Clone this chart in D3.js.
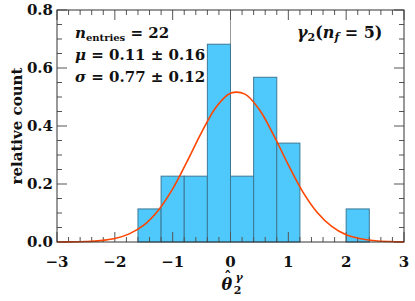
<!DOCTYPE html>
<html>
<head>
<meta charset="utf-8">
<script src="https://cdn.jsdelivr.net/npm/d3@7"></script>
<style>
  body { margin: 0; background: #fff; }
  text { font-family: "DejaVu Serif", serif; font-weight: bold; fill: #111; }
</style>
</head>
<body>
<div id="chart"></div>
<script>
// histogram bins (left edge, right edge) and relative counts (count / (22 * 0.4))
const binLo = [-1.6, -1.2, -0.8, -0.4, 0.0, 0.4, 0.8, 2.0];
const binHi = [-1.2, -0.8, -0.4, 0.0, 0.4, 0.8, 1.2, 2.4];
const relCount = [0.114, 0.227, 0.227, 0.682, 0.227, 0.568, 0.341, 0.114];

// fitted gaussian
const curveX = [-3, -2.75, -2.5, -2.25, -2, -1.75, -1.5, -1.25, -1, -0.75, -0.5, -0.25, 0,
                0.25, 0.5, 0.75, 1, 1.25, 1.5, 1.75, 2, 2.25, 2.5, 2.75, 3];
const curveY = [0.0001, 0.0005, 0.0017, 0.0047, 0.012, 0.028, 0.058, 0.109, 0.183, 0.278, 0.378, 0.465, 0.513,
                0.510, 0.456, 0.367, 0.266, 0.173, 0.102, 0.054, 0.025, 0.011, 0.0042, 0.0015, 0.0005];

const xTicks = [-3, -2, -1, 0, 1, 2, 3];
const yTicks = [0.0, 0.2, 0.4, 0.6, 0.8];

const margin = { top: 10, right: 11, bottom: 59, left: 57 };
const W = 415, H = 301;
const width = W - margin.left - margin.right;
const height = H - margin.top - margin.bottom;

const svg = d3.select('#chart').append('svg')
    .attr('width', W).attr('height', H);
const g = svg.append('g').attr('transform', `translate(${margin.left},${margin.top})`);

const x = d3.scaleLinear().domain([-3, 3]).range([0, width]);
const y = d3.scaleLinear().domain([0, 0.8]).range([height, 0]);

// zero line
g.append('line')
    .attr('x1', x(0)).attr('x2', x(0))
    .attr('y1', 0).attr('y2', height)
    .attr('stroke', '#999').attr('stroke-width', 1);

// bars
g.selectAll('rect.bar')
    .data(relCount)
    .join('rect')
    .attr('class', 'bar')
    .attr('x', (d, i) => x(binLo[i]))
    .attr('y', d => y(d))
    .attr('width', (d, i) => x(binHi[i]) - x(binLo[i]))
    .attr('height', d => height - y(d))
    .attr('fill', '#4fc9fb')
    .attr('stroke', '#3c7896')
    .attr('stroke-width', 1);

// ticks (inward, on all four sides)
const xMinor = d3.range(-3, 3.001, 0.2);
const yMinor = d3.range(0, 0.8001, 0.05);
const tickG = g.append('g').attr('stroke', '#555').attr('stroke-width', 1);
xMinor.forEach(v => {
    const major = xTicks.some(t => Math.abs(t - v) < 1e-6);
    const len = major ? 10 : 5;
    tickG.append('line').attr('x1', x(v)).attr('x2', x(v)).attr('y1', height).attr('y2', height - len);
    tickG.append('line').attr('x1', x(v)).attr('x2', x(v)).attr('y1', 0).attr('y2', len);
});
yMinor.forEach(v => {
    const major = yTicks.some(t => Math.abs(t - v) < 1e-6);
    const len = major ? 10 : 5;
    tickG.append('line').attr('x1', 0).attr('x2', len).attr('y1', y(v)).attr('y2', y(v));
    tickG.append('line').attr('x1', width).attr('x2', width - len).attr('y1', y(v)).attr('y2', y(v));
});

// gaussian
g.append('path')
    .datum(curveX.map((v, i) => [v, curveY[i]]))
    .attr('fill', 'none')
    .attr('stroke', '#ff4500')
    .attr('stroke-width', 1.6)
    .attr('d', d3.line().x(d => x(d[0])).y(d => y(d[1])).curve(d3.curveCatmullRom));

// frame
g.append('rect')
    .attr('width', width).attr('height', height)
    .attr('fill', 'none').attr('stroke', '#333').attr('stroke-width', 1);

// tick labels
g.selectAll('text.xt').data(xTicks).join('text')
    .attr('class', 'xt')
    .attr('x', d => x(d)).attr('y', height + 25)
    .attr('text-anchor', 'middle')
    .style('font-size', '15px')
    .text(d => d < 0 ? '\u2212' + Math.abs(d) : d);

g.selectAll('text.yt').data(yTicks).join('text')
    .attr('class', 'yt')
    .attr('x', -4).attr('y', d => y(d) + 5)
    .attr('text-anchor', 'end')
    .style('font-size', '15px')
    .text(d => d.toFixed(1));

// axis labels
svg.append('text')
    .attr('transform', `translate(22,${margin.top + height / 2}) rotate(-90)`)
    .attr('text-anchor', 'middle')
    .style('font-size', '15px')
    .text('relative count');

// theta hat, sub 2, sup gamma (hat placed as a tspan of the same text)
const xl = svg.append('text')
    .attr('x', margin.left + x(0) - 9).attr('y', 290)
    .style('font-size', '16px');
xl.append('tspan').style('font-style', 'italic').text('\u03B8');
const hat = xl.append('tspan').attr('dy', -8).style('font-size', '14px').text('\u02C6');
xl.append('tspan').attr('dy', 12).style('font-size', '11px').text('2');
xl.append('tspan').attr('dx', -6).attr('dy', -13).style('font-size', '11px').style('font-style', 'italic').text('\u03B3');
// pull the hat back over the theta
const thetaW = xl.select('tspan').node().getComputedTextLength();
const hatW = hat.node().getComputedTextLength();
hat.attr('dx', -(thetaW + hatW) / 2 + 1);
xl.selectAll('tspan').filter((d, i) => i === 2).attr('dx', (hatW - thetaW) / 2 + thetaW / 2 - 1);

// stats box
const info = svg.append('g').style('font-size', '15px');
const t1 = info.append('text').attr('x', 75).attr('y', 38);
t1.append('tspan').style('font-style', 'italic').text('n');
t1.append('tspan').attr('dy', 3).style('font-size', '10px').text('entries');
t1.append('tspan').attr('dy', -3).text(' = 22');
const t2 = info.append('text').attr('x', 75).attr('y', 60);
t2.append('tspan').style('font-style', 'italic').text('\u03BC');
t2.append('tspan').text(' = 0.11 \u00B1 0.16');
const t3 = info.append('text').attr('x', 75).attr('y', 82);
t3.append('tspan').style('font-style', 'italic').text('\u03C3');
t3.append('tspan').text(' = 0.77 \u00B1 0.12');

// model label
const t4 = svg.append('text').attr('x', 297).attr('y', 38).style('font-size', '16px');
t4.append('tspan').style('font-style', 'italic').text('\u03B3');
t4.append('tspan').attr('dy', 3).style('font-size', '11px').text('2');
t4.append('tspan').attr('dy', -3).text('(');
t4.append('tspan').style('font-style', 'italic').text('n');
t4.append('tspan').attr('dy', 3).style('font-size', '11px').style('font-style', 'italic').text('f');
t4.append('tspan').attr('dy', -3).text(' = 5)');
</script>
</body>
</html>
